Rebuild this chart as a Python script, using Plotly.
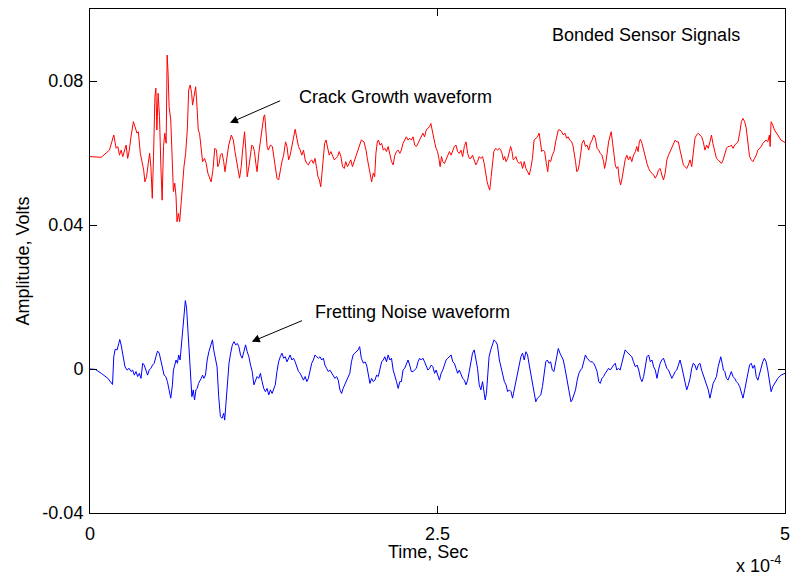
import plotly.graph_objects as go

# time in units of 1e-4 s, amplitude in mV
red_t = [0.000, 0.081, 0.140, 0.171, 0.188, 0.200, 0.212, 0.224, 0.236, 0.248, 0.260, 0.271, 0.283, 0.295,
         0.312, 0.324, 0.338, 0.348, 0.362, 0.374, 0.386, 0.395, 0.407, 0.419, 0.429, 0.438, 0.448, 0.457,
         0.467, 0.474, 0.481, 0.490, 0.500, 0.510, 0.519, 0.529, 0.538, 0.548, 0.555, 0.562, 0.569, 0.581,
         0.593, 0.600, 0.610, 0.619, 0.626, 0.636, 0.645, 0.655, 0.664, 0.676, 0.688, 0.700, 0.710, 0.721,
         0.731, 0.738, 0.748, 0.760, 0.767, 0.779, 0.788, 0.800, 0.810, 0.824, 0.836, 0.848, 0.860, 0.871,
         0.883, 0.898, 0.910, 0.919, 0.929, 0.938, 0.950, 0.962, 0.971, 0.981,
         0.998, 1.017, 1.031, 1.043, 1.055, 1.064, 1.076, 1.088, 1.098, 1.112, 1.121, 1.131, 1.143, 1.155,
         1.164, 1.174, 1.183, 1.193, 1.202, 1.214, 1.224, 1.233, 1.243, 1.250, 1.257, 1.264, 1.274, 1.283,
         1.298, 1.312, 1.321, 1.333, 1.345, 1.357, 1.369, 1.381, 1.393, 1.407, 1.417, 1.429, 1.440, 1.452,
         1.464, 1.476, 1.488, 1.500, 1.512, 1.524, 1.536, 1.548, 1.560, 1.571, 1.583, 1.595, 1.607, 1.619,
         1.631, 1.640, 1.650, 1.660, 1.669, 1.679, 1.688, 1.698, 1.710, 1.721, 1.733, 1.745, 1.757, 1.769,
         1.781, 1.793, 1.805, 1.817, 1.829, 1.840, 1.852, 1.864, 1.876, 1.888, 1.900, 1.912, 1.926, 1.940,
         1.952,
         1.971, 1.986, 1.995, 2.007, 2.017, 2.026, 2.038, 2.048, 2.057, 2.067, 2.076, 2.086, 2.098, 2.110,
         2.121, 2.133, 2.145, 2.157, 2.169, 2.181, 2.193, 2.205, 2.217, 2.229, 2.240, 2.252, 2.264, 2.276,
         2.288, 2.300, 2.312, 2.324, 2.336, 2.348, 2.360, 2.371, 2.383, 2.395, 2.407, 2.419, 2.431, 2.443,
         2.452, 2.462, 2.471, 2.481, 2.490, 2.500, 2.510, 2.519, 2.529, 2.538, 2.550, 2.562, 2.574, 2.586,
         2.598, 2.610, 2.621, 2.633, 2.645, 2.657, 2.669, 2.681, 2.693, 2.705, 2.717, 2.729, 2.740, 2.752,
         2.764, 2.776, 2.788, 2.800, 2.812, 2.824, 2.836, 2.848, 2.857, 2.867, 2.876, 2.886, 2.895, 2.905,
         2.919, 2.931,
         2.945, 2.955, 2.964, 2.974, 2.983, 2.993, 3.005, 3.017, 3.026, 3.036, 3.045, 3.055, 3.064, 3.076,
         3.088, 3.100, 3.112, 3.124, 3.136, 3.148, 3.160, 3.171, 3.183, 3.195, 3.207, 3.219, 3.231, 3.240,
         3.250, 3.260, 3.271, 3.283, 3.293, 3.302, 3.314, 3.326, 3.338, 3.350, 3.360, 3.369, 3.381, 3.393,
         3.405, 3.417, 3.429, 3.440, 3.452, 3.464, 3.474, 3.483, 3.493, 3.502, 3.512, 3.521, 3.531, 3.540,
         3.552, 3.564, 3.576, 3.588, 3.600, 3.612, 3.624, 3.636, 3.648, 3.660, 3.671, 3.683, 3.695, 3.702,
         3.712, 3.721, 3.731, 3.743, 3.750, 3.760, 3.769, 3.779, 3.788, 3.798, 3.807, 3.817, 3.826, 3.838,
         3.850, 3.862, 3.874, 3.886, 3.898, 3.910,
         3.924, 3.933, 3.943, 3.952, 3.960, 3.971, 3.983, 3.995, 4.007, 4.019, 4.031, 4.043, 4.055, 4.067,
         4.079, 4.090, 4.102, 4.114, 4.126, 4.138, 4.150, 4.162, 4.174, 4.186, 4.198, 4.210, 4.221, 4.233,
         4.245, 4.257, 4.269, 4.281, 4.293, 4.305, 4.317, 4.329, 4.340, 4.352, 4.364, 4.376, 4.388, 4.400,
         4.412, 4.424, 4.436, 4.448, 4.460, 4.471, 4.481, 4.495, 4.507, 4.519, 4.531, 4.543, 4.555, 4.567,
         4.579, 4.590, 4.602, 4.614, 4.626, 4.638, 4.650, 4.662, 4.674, 4.686, 4.698, 4.710, 4.721, 4.733,
         4.745, 4.757, 4.769, 4.781, 4.793, 4.805, 4.817, 4.829, 4.840, 4.852, 4.864, 4.876, 4.888, 4.893,
         4.900, 4.912, 4.924, 4.948, 4.971, 5.000]

red_mv = [59.0, 58.8, 60.8, 65.0, 61.3, 61.8, 59.4, 60.8, 59.0, 60.4, 62.2, 58.5, 60.8, 64.5,
          68.7, 67.3, 65.5, 65.9, 59.9, 57.6, 55.3, 52.0, 53.4, 57.1, 59.9, 56.2, 47.4, 59.0,
          75.6, 78.0, 66.4, 76.6, 70.1, 56.2, 46.9, 61.8, 65.5, 62.7, 87.2, 82.1, 72.9, 69.2,
          58.1, 49.3, 51.6, 47.9, 40.9, 43.2, 40.9, 46.0, 51.6, 56.2, 59.9, 66.4, 77.5, 78.9,
          76.6, 73.3, 75.6, 78.4, 74.7, 66.4, 65.5, 61.8, 57.6, 58.5, 57.1, 54.4, 53.4, 52.0,
          54.8, 61.3, 60.8, 56.2, 57.1, 59.4, 59.9, 57.6, 54.8, 58.1,
          62.2, 65.0, 63.6, 60.4, 58.1, 55.7, 53.0, 56.2, 60.8, 65.9, 60.8, 53.4, 56.2, 59.0,
          62.2, 61.8, 60.4, 57.1, 54.8, 59.9, 63.1, 65.5, 67.8, 70.1, 70.6, 65.5, 61.8, 60.8,
          62.2, 61.8, 59.4, 55.3, 53.0, 52.5, 55.3, 57.6, 59.4, 63.1, 61.8, 58.1, 59.4, 62.2,
          64.1, 66.6, 64.1, 61.8, 60.8, 59.4, 60.8, 58.1, 57.1, 56.7, 57.6, 58.1, 57.1, 58.5,
          55.7, 53.4, 52.5, 50.6, 54.4, 60.4, 62.7, 63.6, 61.8, 59.4, 60.4, 59.0, 58.1, 58.5,
          59.0, 60.4, 59.0, 56.2, 55.7, 57.6, 56.2, 57.1, 58.1, 56.2, 57.6, 59.4, 60.4, 62.2,
          63.6,
          63.1, 60.8, 58.5, 56.2, 53.4, 52.0, 54.4, 53.4, 59.9, 63.1, 63.6, 62.2, 62.7, 60.8,
          61.3, 60.4, 61.8, 59.4, 57.6, 56.7, 59.4, 60.4, 60.8, 59.9, 60.8, 62.7, 63.6, 64.5,
          63.6, 64.1, 63.6, 64.5, 62.2, 61.8, 62.7, 63.6, 64.5, 65.5, 64.5, 66.4, 66.9, 67.3,
          68.2, 65.9, 64.1, 62.7, 61.3, 60.4, 58.5, 56.2, 59.0, 57.6, 57.1, 58.1, 59.4, 60.4,
          59.4, 60.8, 61.8, 62.2, 60.4, 59.9, 60.8, 59.0, 61.8, 63.1, 59.9, 58.5, 58.5, 59.4,
          58.1, 56.7, 57.6, 59.0, 58.5, 59.0, 57.1, 53.9, 52.0, 50.6, 49.7, 53.4, 57.1, 60.4,
          61.3, 60.8,
          61.3, 60.8, 59.9, 58.1, 59.0, 57.6, 58.5, 60.4, 61.8, 60.4, 58.1, 58.5, 59.0, 57.6,
          57.1, 57.6, 55.7, 57.6, 55.7, 54.8, 53.9, 55.7, 58.5, 63.6, 64.1, 64.5, 65.5, 63.1,
          60.4, 60.8, 60.4, 57.1, 54.8, 58.1, 57.6, 59.4, 60.4, 63.1, 65.5, 66.4, 66.4, 65.9,
          65.0, 65.5, 64.1, 64.5, 63.6, 63.1, 62.2, 60.4, 57.6, 54.8, 55.3, 57.1, 60.4, 62.7,
          63.6, 61.8, 62.2, 60.8, 62.7, 63.6, 65.0, 64.1, 61.3, 60.8, 59.9, 59.4, 57.6, 55.7,
          57.6, 60.8, 63.1, 65.0, 65.9, 62.7, 59.4, 56.7, 55.7, 56.2, 53.0, 51.1, 52.5, 55.7,
          58.1, 59.4, 58.1, 59.0, 57.6, 59.4,
          60.4, 61.8, 60.4, 63.1, 63.8, 62.7, 60.8, 58.5, 57.1, 55.7, 54.8, 54.4, 53.9, 53.0,
          53.9, 55.3, 55.7, 53.9, 52.5, 54.4, 58.1, 59.4, 60.4, 61.8, 62.7, 63.6, 63.1, 63.1,
          60.8, 58.5, 56.7, 56.2, 55.7, 56.7, 58.1, 56.2, 60.8, 64.1, 65.0, 65.5, 65.0, 64.5,
          63.1, 60.8, 62.2, 61.3, 63.1, 65.0, 62.7, 60.4, 58.5, 58.1, 57.6, 57.1, 58.1, 59.9,
          61.3, 61.8, 61.8, 62.2, 61.3, 62.2, 62.7, 63.1, 65.5, 68.7, 69.6, 68.7, 66.9, 63.1,
          59.0, 58.1, 57.6, 58.5, 59.4, 60.8, 61.3, 61.8, 62.7, 63.1, 63.6, 63.1, 65.0, 61.8,
          68.7, 67.8, 66.4, 65.0, 63.6, 62.9]

blue_t = [0.000, 0.038, 0.081, 0.129, 0.162, 0.171, 0.181, 0.195, 0.207, 0.214, 0.224, 0.233, 0.243, 0.252,
          0.267, 0.281, 0.295, 0.307, 0.319, 0.331, 0.343, 0.355, 0.367, 0.379, 0.390, 0.402, 0.414, 0.426,
          0.438, 0.450, 0.462, 0.474, 0.486, 0.498, 0.510, 0.521, 0.533, 0.545, 0.557, 0.569, 0.581, 0.593,
          0.600, 0.610, 0.619, 0.629, 0.638, 0.648, 0.657, 0.667, 0.676, 0.686, 0.695, 0.705, 0.714, 0.724,
          0.733, 0.743, 0.752, 0.762, 0.771, 0.781, 0.790, 0.800, 0.810, 0.819, 0.831, 0.843, 0.855, 0.867,
          0.881, 0.890, 0.902, 0.914, 0.926, 0.938, 0.950, 0.962, 0.969, 0.979,
          0.988, 1.000, 1.012, 1.024, 1.036, 1.048, 1.060, 1.071, 1.083, 1.095, 1.107, 1.119, 1.131, 1.143,
          1.155, 1.167, 1.179, 1.190, 1.202, 1.214, 1.226, 1.238, 1.250, 1.262, 1.274, 1.286, 1.298, 1.310,
          1.321, 1.333, 1.345, 1.357, 1.369, 1.381, 1.393, 1.405, 1.417, 1.429, 1.440, 1.452, 1.464, 1.476,
          1.488, 1.500, 1.512, 1.524, 1.536, 1.548, 1.560, 1.571, 1.583, 1.595, 1.607, 1.619, 1.631, 1.643,
          1.655, 1.667, 1.679, 1.690, 1.702, 1.714, 1.726, 1.738, 1.750, 1.762, 1.774, 1.786, 1.798, 1.810,
          1.821, 1.833, 1.845, 1.857, 1.869, 1.881, 1.893, 1.905, 1.917, 1.929, 1.940, 1.952,
          1.967, 1.979, 1.990, 2.002, 2.014, 2.026, 2.038, 2.050, 2.062, 2.074, 2.086, 2.098, 2.110, 2.121,
          2.133, 2.145, 2.157, 2.169, 2.181, 2.193, 2.205, 2.217, 2.229, 2.240, 2.252, 2.264, 2.276, 2.288,
          2.300, 2.312, 2.324, 2.336, 2.348, 2.360, 2.371, 2.383, 2.395, 2.407, 2.419, 2.431, 2.443, 2.455,
          2.467, 2.479, 2.490, 2.502, 2.514, 2.526, 2.538, 2.550, 2.562, 2.574, 2.586, 2.598, 2.610, 2.621,
          2.633, 2.645, 2.657, 2.669, 2.681, 2.693, 2.705, 2.717, 2.729, 2.740, 2.752, 2.764, 2.776, 2.788,
          2.800, 2.812, 2.824, 2.836, 2.843, 2.852, 2.862, 2.871, 2.883, 2.895, 2.907, 2.919, 2.931,
          2.945, 2.957, 2.969, 2.981, 2.993, 3.005, 3.017, 3.029, 3.040, 3.052, 3.064, 3.076, 3.088, 3.100,
          3.112, 3.124, 3.136, 3.148, 3.160, 3.171, 3.183, 3.195, 3.207, 3.219, 3.231, 3.243, 3.255, 3.267,
          3.279, 3.290, 3.302, 3.314, 3.326, 3.338, 3.350, 3.362, 3.369, 3.381, 3.393, 3.405, 3.417, 3.429,
          3.440, 3.450, 3.460, 3.469, 3.481, 3.493, 3.505, 3.517, 3.529, 3.540, 3.552, 3.564, 3.576, 3.588,
          3.600, 3.612, 3.624, 3.636, 3.648, 3.660, 3.671, 3.683, 3.695, 3.707, 3.719, 3.731, 3.743, 3.755,
          3.767, 3.779, 3.790, 3.802, 3.814, 3.826, 3.838, 3.850, 3.862, 3.874, 3.886, 3.898, 3.910,
          3.924, 3.936, 3.948, 3.960, 3.971, 3.983, 3.995, 4.007, 4.019, 4.031, 4.043, 4.055, 4.067, 4.079,
          4.090, 4.102, 4.114, 4.126, 4.138, 4.150, 4.162, 4.174, 4.186, 4.198, 4.210, 4.221, 4.233, 4.245,
          4.257, 4.269, 4.281, 4.293, 4.305, 4.317, 4.329, 4.340, 4.352, 4.364, 4.376, 4.388, 4.400, 4.412,
          4.424, 4.436, 4.448, 4.460, 4.471, 4.483, 4.495, 4.507, 4.519, 4.531, 4.538, 4.548, 4.557, 4.567,
          4.579, 4.590, 4.602, 4.614, 4.626, 4.638, 4.650, 4.662, 4.674, 4.686, 4.698, 4.710, 4.721, 4.733,
          4.745, 4.757, 4.769, 4.781, 4.793, 4.805, 4.817, 4.829, 4.840, 4.852, 4.864, 4.876, 4.888, 4.900,
          4.912, 4.924, 4.948, 4.971, 5.000]

blue_mv = [0.0, -0.1, -1.2, -2.6, -4.3, 3.4, 5.5, 5.3, 7.1, 8.2, 6.7, 4.4, 2.5, 0.6,
           -0.3, 0.2, -0.7, -0.3, -1.7, -0.7, -2.1, -1.2, -2.6, 1.6, 1.1, -0.7, -1.7, -0.3,
           0.2, 1.1, 1.6, 3.4, 5.0, 4.4, 2.0, 0.2, -1.7, -2.1, -3.5, -5.8, -8.1, -4.4,
           -0.3, 1.1, 2.5, 1.6, 3.9, 2.5, 6.2, 10.8, 13.6, 19.0, 16.9, 10.8, 3.4, -2.6,
           -7.7, -5.8, -8.6, -5.8, -5.4, -4.0, -3.1, -2.6, -1.7, -2.6, -1.7, 2.5, 4.8, 6.7,
           8.1, 5.3, 2.5, 0.6, -7.7, -13.2, -13.7, -12.3, -14.2, -9.5,
           -4.9, 1.6, 4.4, 6.7, 7.6, 6.7, 7.1, 6.2, 3.9, 3.0, 4.8, 6.7, 4.8, 3.4,
           1.1, -0.7, -4.4, -3.1, -2.1, -2.6, -1.2, -3.5, -5.4, -6.3, -5.4, -7.2, -5.8, -6.8,
           -5.8, -4.4, -0.7, 2.0, 3.4, 4.4, 3.0, 3.4, 2.0, 3.0, 3.9, 2.5, 3.0, 2.0,
           0.6, -0.7, -1.2, -2.1, -3.1, -2.1, -3.5, -2.6, -0.7, 1.6, 2.5, 3.9, 3.4, 3.0,
           3.4, 2.5, 3.0, 1.1, 0.2, -0.7, -0.3, -1.2, -1.7, -2.6, -2.1, -3.1, -5.8, -6.8,
           -5.4, -4.4, -3.5, -2.6, -1.2, 2.0, 3.9, 4.4, 4.8, 5.3, 6.2, 3.0,
           1.6, 2.0, 1.1, -1.7, -4.0, -2.6, -3.5, -3.1, -1.7, -2.1, -0.3, 2.0, 2.5, 3.4,
           2.0, 3.9, 2.5, 3.0, -0.3, -1.7, -3.5, -5.4, -3.5, -3.5, -0.3, 0.2, 1.6, 2.5,
           1.1, -0.7, -0.7, -0.3, 0.2, 2.0, 3.0, 2.5, 3.0, 2.0, 0.6, -0.3, 0.2, 1.1,
           0.6, -1.2, -0.3, -2.1, -3.1, -1.2, -0.3, 1.1, 2.5, 3.0, 3.4, 3.9, 2.0, 1.6,
           0.2, -1.2, -0.3, -1.7, -2.6, -3.1, -4.4, -3.1, -0.7, 2.5, 4.4, 5.3, 3.0, 0.2,
           -4.4, -5.8, -3.5, -7.2, -8.6, -6.8, -1.2, 3.4, 5.3, 7.1, 8.1, 7.6, 6.7,
           2.5, 0.6, -2.1, -3.5, -4.4, -6.3, -5.8, -6.3, -8.1, -5.8, -3.1, -1.2, 1.6, 3.4,
           4.4, 2.5, 4.8, 3.9, 1.1, -1.2, -4.0, -7.2, -9.1, -8.1, -7.7, -7.2, -4.9, -1.2,
           2.0, 2.5, 1.6, 2.0, -0.3, -0.7, 2.0, 4.4, 5.7, 4.4, 3.4, 2.5, 0.2, -2.6,
           -4.4, -7.7, -9.1, -8.6, -7.2, -5.8, -3.1, -1.2, -0.3, 0.2, 2.0, 3.9, 3.0, 2.5,
           2.0, 2.0, 1.6, 0.6, -0.7, -3.5, -4.0, -2.6, -2.1, -1.2, -0.3, 0.2, -0.3, 0.6,
           1.1, 1.6, -0.3, 0.2, -0.3, 1.6, 3.4, 5.3, 4.8, 4.4, 3.9, 3.4, 2.0,
           0.6, 1.1, -0.3, -2.6, -3.5, -2.1, 0.2, 3.4, 3.9, 2.0, 2.5, 0.6, -0.3, -2.6,
           -0.3, 1.6, 2.5, 3.0, 1.6, 0.2, -0.3, -1.7, -2.6, -1.7, -0.7, -0.3, 1.1, 2.5,
           0.6, -1.7, -4.0, -5.8, -4.4, -2.6, 0.2, 1.6, 1.1, -0.3, 1.1, 1.6, -0.3, -1.7,
           -3.5, -4.4, -5.8, -8.1, -5.8, -4.0, -3.1, -2.1, 0.6, 3.0, 3.4, 1.6, -0.3, -0.7,
           -2.6, -3.1, -1.7, -0.7, -2.1, -2.6, -3.5, -4.0, -4.9, -6.3, -8.1, -5.8, -3.5, -0.3,
           1.1, 1.6, 0.2, 1.1, -2.1, -3.1, -1.2, 0.2, 2.0, 3.0, 2.0, -0.3, -4.0, -6.3,
           -4.9, -4.0, -2.6, -1.7, -1.2]

x_tick_vals = [0, 2.5, 5]
x_tick_text = ["0", "2.5", "5"]
y_tick_vals = [-0.04, 0, 0.04, 0.08]
y_tick_text = ["-0.04", "0", "0.04", "0.08"]

T_SCALE = 1e-4
V_SCALE = 1e-3

FONT = "Liberation Sans, Arial, Helvetica, sans-serif"
FS = 18

fig = go.Figure()
fig.add_trace(go.Scatter(x=[t * T_SCALE for t in red_t], y=[v * V_SCALE for v in red_mv],
                         mode="lines", line=dict(color="#ff0000", width=1), showlegend=False))
fig.add_trace(go.Scatter(x=[t * T_SCALE for t in blue_t], y=[v * V_SCALE for v in blue_mv],
                         mode="lines", line=dict(color="#0000ff", width=1), showlegend=False))

axis_common = dict(showline=True, linecolor="#000000", linewidth=1, mirror="ticks",
                   ticks="inside", ticklen=7, tickcolor="#000000", showgrid=False, zeroline=False,
                   tickfont=dict(family=FONT, size=FS, color="#000000"))

fig.update_xaxes(range=[0, 5 * T_SCALE], tickvals=[v * T_SCALE for v in x_tick_vals],
                 ticktext=x_tick_text, ticklabelstandoff=4, **axis_common)
fig.update_yaxes(range=[-0.04, 0.1], tickvals=y_tick_vals, ticktext=y_tick_text,
                 ticklabelstandoff=2, **axis_common)

annots = [
    dict(text="Bonded Sensor Signals", x=3.307 * T_SCALE, y=0.0928, xref="x", yref="y",
         xanchor="left", yanchor="middle", showarrow=False),
    dict(text="Crack Growth waveform", x=1.486 * T_SCALE, y=0.0756, xref="x", yref="y",
         xanchor="left", yanchor="middle", showarrow=False),
    dict(text="Fretting Noise waveform", x=1.607 * T_SCALE, y=0.0158, xref="x", yref="y",
         xanchor="left", yanchor="middle", showarrow=False),
    dict(text="", x=1.007 * T_SCALE, y=0.0684, xref="x", yref="y",
         ax=1.379 * T_SCALE, ay=0.0747, axref="x", ayref="y", showarrow=True,
         arrowhead=2, arrowsize=1.6, arrowwidth=1, arrowcolor="#000000"),
    dict(text="", x=1.164 * T_SCALE, y=0.0076, xref="x", yref="y",
         ax=1.536 * T_SCALE, ay=0.0136, axref="x", ayref="y", showarrow=True,
         arrowhead=2, arrowsize=1.6, arrowwidth=1, arrowcolor="#000000"),
    dict(text="Time, Sec", x=0.486, y=-0.053, xref="paper", yref="paper",
         xanchor="center", yanchor="top", showarrow=False),
    dict(text="x 10<sup>-4</sup>", x=0.997, y=-0.075, xref="paper", yref="paper",
         xanchor="right", yanchor="top", showarrow=False),
    dict(text="Amplitude, Volts", x=-0.097, y=0.5, xref="paper", yref="paper",
         xanchor="center", yanchor="middle", textangle=-90, showarrow=False),
]
for a in annots:
    a.setdefault("font", dict(family=FONT, size=FS, color="#000000"))
    fig.add_annotation(**a)

fig.update_layout(width=798, height=576, margin=dict(l=90, r=8, t=8, b=63),
                  paper_bgcolor="#ffffff", plot_bgcolor="#ffffff",
                  font=dict(family=FONT, size=FS, color="#000000"))

fig.write_html("out.html")
